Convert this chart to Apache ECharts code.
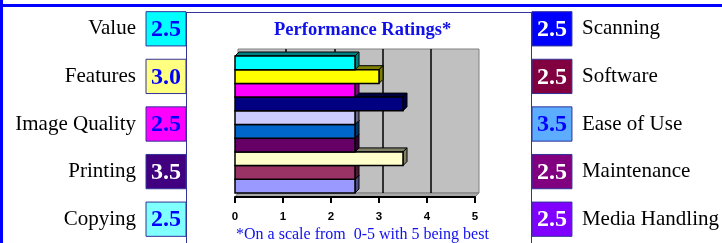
<!DOCTYPE html>
<html>
<head>
<meta charset="utf-8">
<script src="https://cdn.jsdelivr.net/npm/echarts@6/dist/echarts.min.js"></script>
<style>
html,body{margin:0;padding:0;background:#fff;}
#main{width:722px;height:243px;}
</style>
</head>
<body>
<div id="main"></div>
<script>
// ---- data ----
const leftCats = ['Value', 'Features', 'Image Quality', 'Printing', 'Copying'];
const leftScores = [2.5, 3.0, 2.5, 3.5, 2.5];
const rightCats = ['Scanning', 'Software', 'Ease of Use', 'Maintenance', 'Media Handling'];
const rightScores = [2.5, 2.5, 3.5, 2.5, 2.5];
const barCategories = leftCats.concat(rightCats);
const barValues = [2.5, 3.0, 2.5, 3.5, 2.5, 2.5, 2.5, 3.5, 2.5, 2.5];
const xTicks = [0, 1, 2, 3, 4, 5];
const titleText = 'Performance Ratings*';
const noteText = '*On a scale from  0-5 with 5 being best';

// ---- styles ----
const barColors = ['#00FFFF', '#FFFF00', '#FF00FF', '#000080', '#CCCCFF', '#0066CC', '#660066', '#FFFFCC', '#993366', '#9999FF'];
const leftBoxColors = ['#00FFFF', '#FFFF80', '#FF00FF', '#400080', '#80FFFF'];
const leftTextColors = ['#0000FF', '#0000FF', '#0000FF', '#FFFFFF', '#0000FF'];
const rightBoxColors = ['#0000FF', '#800040', '#5CADFF', '#800080', '#8000FF'];
const rightTextColors = ['#FFFFFF', '#FFFFFF', '#0000FF', '#FFFFFF', '#FFFFFF'];
const frameColor = '#333399';
const serif = '"Liberation Serif", "Times New Roman", serif';

function darken(hex, f) {
  const n = parseInt(hex.slice(1), 16);
  const r = Math.round(((n >> 16) & 255) * f), g = Math.round(((n >> 8) & 255) * f), b = Math.round((n & 255) * f);
  return 'rgb(' + r + ',' + g + ',' + b + ')';
}

const chart = echarts.init(document.getElementById('main'), null, {renderer: 'canvas'});

const depth = 4;
function renderBar(params, api) {
  const idx = api.value(0);
  const val = api.value(1);
  const ci = api.value(2);
  const p0 = api.coord([0, idx]);
  const p1 = api.coord([val, idx]);
  const h = api.size([0, 1])[1];
  const x = p0[0], y = p0[1] - h / 2, w = p1[0] - p0[0];
  const col = barColors[ci];
  const dark = darken(col, 0.5);
  return {
    type: 'group',
    children: [
      {type: 'polygon', shape: {points: [[x, y], [x + depth, y - depth], [x + w + depth, y - depth], [x + w, y]]},
       style: {fill: dark, stroke: '#000', lineWidth: 1}},
      {type: 'polygon', shape: {points: [[x + w, y], [x + w + depth, y - depth], [x + w + depth, y + h - depth], [x + w, y + h]]},
       style: {fill: dark, stroke: '#000', lineWidth: 1}},
      {type: 'rect', shape: {x: x, y: y, width: w, height: h},
       style: {fill: col, stroke: '#000', lineWidth: 1.5}}
    ]
  };
}

function makeBoxRenderer(boxColors, textColors) {
  return function (params, api) {
    const idx = api.value(0);
    const score = api.value(1);
    const a = api.coord([0, idx]);
    const b = api.coord([1, idx]);
    const band = api.size([0, 1])[1];
    const bh = band * 0.72;
    return {
      type: 'group',
      children: [
        {type: 'rect', shape: {x: a[0], y: a[1] - bh / 2, width: b[0] - a[0], height: bh},
         style: {fill: boxColors[idx], stroke: frameColor, lineWidth: 1}},
        {type: 'text', x: (a[0] + b[0]) / 2, y: a[1] + 1,
         style: {text: score.toFixed(1), fill: textColors[idx], font: 'bold 24px ' + serif,
                 textAlign: 'center', textVerticalAlign: 'middle'}}
      ]
    };
  };
}

const barData = [];
for (let i = barValues.length - 1; i >= 0; i--) barData.push([i, barValues[i], i]);

const option = {
  animation: false,
  backgroundColor: '#fff',
  title: [
    {text: titleText, left: 269, top: 16,
     textStyle: {fontFamily: serif, fontWeight: 'bold', fontSize: 18.5, color: '#1010E8'}},
    {text: noteText, left: 231, top: 222,
     textStyle: {fontFamily: serif, fontWeight: 'normal', fontSize: 16, color: '#1010F0'}}
  ],
  grid: [
    {left: 238, top: 49, width: 241, height: 144, show: true, backgroundColor: '#C0C0C0', borderColor: '#808080', borderWidth: 1},
    {left: 235, top: 56, width: 240, height: 137},
    {left: 235, top: 56, width: 240, height: 141},
    {left: 146, top: 5, width: 40, height: 250},
    {left: 532, top: 5, width: 40, height: 250}
  ],
  xAxis: [
    {gridIndex: 0, type: 'value', min: 0, max: 5, interval: 1, axisLine: {show: false}, axisTick: {show: false}, axisLabel: {show: false},
     splitLine: {show: true, showMinLine: false, showMaxLine: false, lineStyle: {color: '#000', width: 1.5}}},
    {gridIndex: 1, type: 'value', min: 0, max: 5, interval: 1, show: false},
    {gridIndex: 2, type: 'value', min: 0, max: 5, interval: 1,
     axisLine: {show: true, lineStyle: {color: '#000', width: 2}},
     axisTick: {show: true, length: 6, lineStyle: {color: '#000', width: 2}},
     axisLabel: {show: true, margin: 14, color: '#000', fontFamily: '"Liberation Sans", Arial, sans-serif', fontWeight: 'bold', fontSize: 11.5,
                 formatter: function (v) { return xTicks.indexOf(v) >= 0 ? String(v) : ''; }},
     splitLine: {show: false}},
    {gridIndex: 3, type: 'value', min: 0, max: 1, show: false},
    {gridIndex: 4, type: 'value', min: 0, max: 1, show: false}
  ],
  yAxis: [
    {gridIndex: 0, type: 'value', min: 0, max: 1, show: false},
    {gridIndex: 1, type: 'category', data: barCategories, inverse: true, show: false},
    {gridIndex: 2, type: 'value', min: 0, max: 1, show: false},
    {gridIndex: 3, type: 'category', data: leftCats, inverse: true, position: 'left',
     axisLine: {show: false}, axisTick: {show: false}, splitLine: {show: false},
     axisLabel: {show: true, margin: 10, color: '#000', fontFamily: serif, fontSize: 21}},
    {gridIndex: 4, type: 'category', data: rightCats, inverse: true, position: 'right',
     axisLine: {show: false}, axisTick: {show: false}, splitLine: {show: false},
     axisLabel: {show: true, margin: 10, color: '#000', fontFamily: serif, fontSize: 21}}
  ],
  series: [
    {type: 'custom', name: 'ratings', xAxisIndex: 1, yAxisIndex: 1, renderItem: renderBar,
     encode: {x: 1, y: 0}, data: barData, z: 5, clip: false},
    {type: 'custom', name: 'left', xAxisIndex: 3, yAxisIndex: 3, renderItem: makeBoxRenderer(leftBoxColors, leftTextColors),
     encode: {y: 0}, data: leftScores.map((s, i) => [i, s]), z: 6, clip: false},
    {type: 'custom', name: 'right', xAxisIndex: 4, yAxisIndex: 4, renderItem: makeBoxRenderer(rightBoxColors, rightTextColors),
     encode: {y: 0}, data: rightScores.map((s, i) => [i, s]), z: 6, clip: false}
  ],
  graphic: [
    {type: 'rect', shape: {x: 0, y: 4, width: 722, height: 3}, style: {fill: '#0000FF'}, z: 10},
    {type: 'rect', shape: {x: 0, y: 0, width: 3, height: 243}, style: {fill: '#0000FF'}, z: 10},
    {type: 'line', shape: {x1: 146, y1: 12.5, x2: 572, y2: 12.5}, style: {stroke: frameColor, lineWidth: 1}, z: 1},
    {type: 'line', shape: {x1: 186.5, y1: 12, x2: 186.5, y2: 243}, style: {stroke: frameColor, lineWidth: 1}, z: 1},
    {type: 'line', shape: {x1: 531.5, y1: 12, x2: 531.5, y2: 243}, style: {stroke: frameColor, lineWidth: 1}, z: 1},
    {type: 'polygon', shape: {points: [[235, 197], [475, 197], [479, 193], [238, 193]]}, style: {fill: '#A8A8A8', stroke: '#808080', lineWidth: 1}, z: 0}
  ]
};
chart.setOption(option);
</script>
</body>
</html>
